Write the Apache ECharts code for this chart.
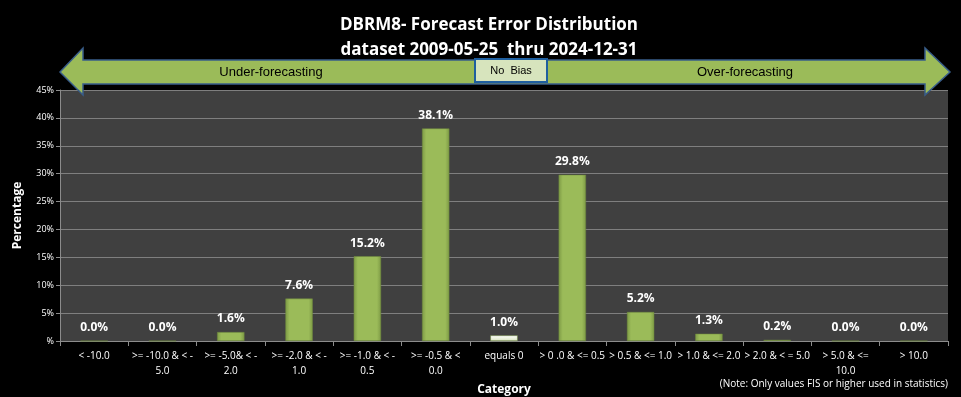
<!DOCTYPE html>
<html><head><meta charset="utf-8">
<script src="https://cdn.jsdelivr.net/npm/echarts@6/dist/echarts.min.js"></script>
<style>html,body{margin:0;padding:0;background:#000}#c{width:961px;height:397px}</style>
</head><body><div id="c"></div>
<script>
const categories = ["< -10.0", ">= -10.0 & < -\n5.0", ">= -5.0& < -\n2.0", ">= -2.0 & < -\n1.0", ">= -1.0 & < -\n0.5", ">= -0.5 & <\n0.0", "equals 0", "> 0 .0 & <= 0.5", "> 0.5 & <= 1.0", "> 1.0 & <= 2.0", "> 2.0 & < = 5.0", "> 5.0 & <=\n10.0", "> 10.0"];
const values = [0.0, 0.0, 1.6, 7.6, 15.2, 38.1, 1.0, 29.8, 5.2, 1.3, 0.2, 0.0, 0.0];
const yTicks = [0, 5, 10, 15, 20, 25, 30, 35, 40, 45];
const titleLines = ["DBRM8- Forecast Error Distribution", "dataset 2009-05-25  thru 2024-12-31"];
const bandLabels = ["Under-forecasting", "No  Bias", "Over-forecasting"];
const noteText = "(Note: Only values FIS or higher used in statistics)";

const FONT = "'Open Sans', 'Noto Sans', sans-serif";
const green = {type:'linear',x:0,y:0,x2:1,y2:0,colorStops:[{offset:0,color:'#7d9a45'},{offset:0.15,color:'#9bbb59'},{offset:0.85,color:'#9bbb59'},{offset:1,color:'#7d9a45'}]};
const white = {type:'linear',x:0,y:0,x2:0,y2:1,colorStops:[{offset:0,color:'#ffffff'},{offset:1,color:'#d7e4bd'}]};

const chart = echarts.init(document.getElementById('c'));
chart.setOption({
  backgroundColor:'#000',
  animation:false,
  title:{text:titleLines.join('\n'), left:484, top:8, textAlign:'center',
    textStyle:{color:'#fff', fontSize:17, fontWeight:'bold', fontFamily:"'Liberation Sans Narrow', 'Open Sans', sans-serif", lineHeight:25}},
  grid:{left:60, right:13, top:90, bottom:56, show:true, backgroundColor:'#404040', borderWidth:0, outerBoundsMode:'none', containLabel:false},
  xAxis:{type:'category', data:categories, name:'Category', nameLocation:'middle', nameGap:37,
    nameTextStyle:{color:'#fff', fontSize:12, fontWeight:'bold', fontFamily:FONT},
    axisLine:{lineStyle:{color:'#8c8c8c'}}, axisTick:{show:true, alignWithLabel:false, length:5, lineStyle:{color:'#8c8c8c'}},
    axisLabel:{color:'#fff', fontSize:10, fontFamily:FONT, interval:0, lineHeight:15, margin:8}},
  yAxis:{type:'value', min:0, max:45, interval:5, name:'Percentage', nameLocation:'middle', nameGap:36, nameRotate:90,
    nameTextStyle:{color:'#fff', fontSize:12, fontWeight:'bold', fontFamily:FONT},
    axisLine:{show:true, lineStyle:{color:'#8c8c8c'}}, axisTick:{show:true, length:4, lineStyle:{color:'#8c8c8c'}},
    splitLine:{lineStyle:{color:'#7f7f7f', width:1}},
    axisLabel:{color:'#fff', fontSize:9, fontFamily:FONT, margin:6, formatter:v=> v===0 ? '%' : v+'%'}},
  series:[{type:'bar', barWidth:'40%',
    data: values.map((v,i)=>({value:v, itemStyle:{color: i===6 ? white : green}})),
    itemStyle:{borderColor:'#6f8a3c', borderWidth:0.5},
    label:{show:true, position:'top', distance:7, color:'#fff', fontSize:12, fontWeight:'bold', fontFamily:FONT, formatter:p=>p.value.toFixed(1)+'%'}
  }],
  graphic:[
    {type:'polygon', shape:{points:[[60,72],[83,48],[83,60],[925,60],[925,48],[950,72],[925,95],[925,84],[83,84],[83,95]]},
      style:{fill:'#9bbb59', stroke:'#385d8a', lineWidth:1.5}, z:10},
    {type:'rect', shape:{x:475, y:59, width:72, height:23}, style:{fill:'#d7e4bd', stroke:'#1f5f9f', lineWidth:2}, z:11},
    {type:'text', x:271, y:72, style:{text:bandLabels[0], fill:'#000', font:"13px 'Liberation Sans Narrow', sans-serif", align:'center', verticalAlign:'middle'}, z:12},
    {type:'text', x:511, y:71, style:{text:bandLabels[1], fill:'#000', font:"11px 'Liberation Sans Narrow', sans-serif", align:'center', verticalAlign:'middle'}, z:12},
    {type:'text', x:745, y:72, style:{text:bandLabels[2], fill:'#000', font:"13px 'Liberation Sans Narrow', sans-serif", align:'center', verticalAlign:'middle'}, z:12},
    {type:'text', x:948, y:384, style:{text:noteText, fill:'#fff', font:"10px 'Open Sans', sans-serif", align:'right', verticalAlign:'middle'}, z:12}
  ]
});
</script></body></html>
